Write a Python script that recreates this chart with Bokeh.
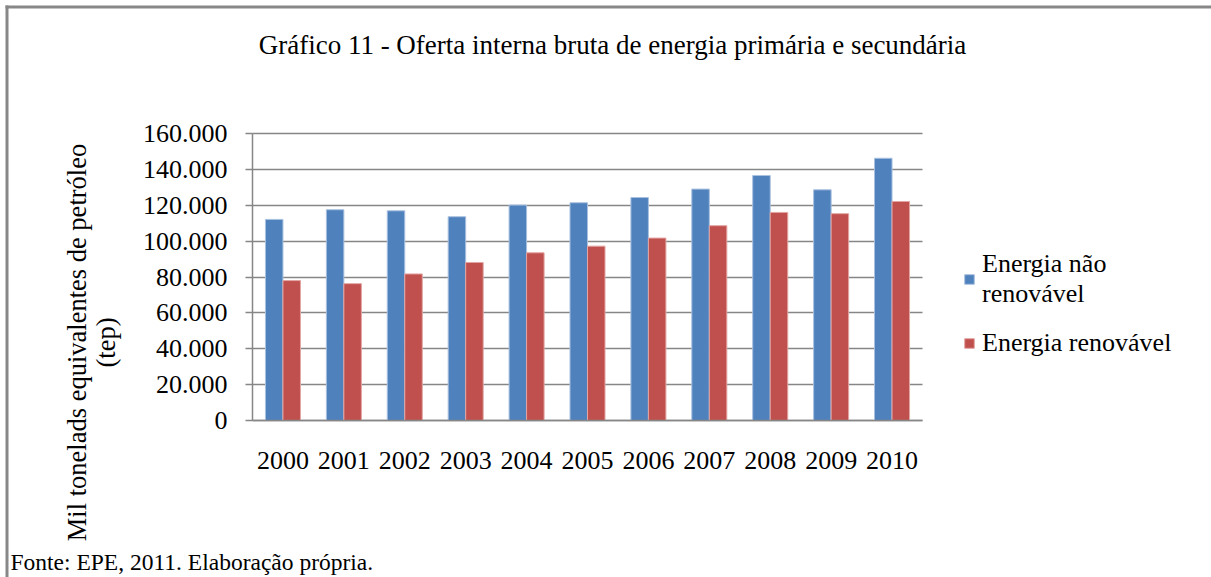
import math
from bokeh.plotting import figure
from bokeh.models import (FixedTicker, Label, Legend, LegendItem, BoxAnnotation,
                          ColumnDataSource, Grid, LinearAxis)
from bokeh.transform import dodge
from bokeh.embed import file_html
from bokeh.resources import INLINE

years = ["2000", "2001", "2002", "2003", "2004", "2005",
         "2006", "2007", "2008", "2009", "2010"]
nao_renovavel = [112100, 117500, 116900, 113600, 120100, 121400,
                 124300, 129000, 136600, 128600, 146200]
renovavel = [78000, 76300, 81700, 88100, 93500, 97200,
             101700, 108600, 116000, 115300, 122100]
y_ticks = [0, 20000, 40000, 60000, 80000, 100000, 120000, 140000, 160000]
y_tick_labels = ["0", "20.000", "40.000", "60.000", "80.000", "100.000",
                 "120.000", "140.000", "160.000"]
series_names = ["Energia não\nrenovável", "Energia renovável"]
title_text = "Gráfico 11 - Oferta interna bruta de energia primária e secundária"
y_label_text = "Mil tonelads equivalentes de petróleo\n(tep)"
source_text = "Fonte: EPE, 2011. Elaboração própria."

FONT = "Liberation Serif"
GRAY = "#868686"
BLUE = "#4F81BD"
RED = "#C0504D"

# ---- layout (page pixels) ----
W, H = 1211, 577
PLOT_L, PLOT_R, PLOT_T, PLOT_B = 252, 922, 133, 420
n = len(years)
cw = (PLOT_R - PLOT_L) / n                       # px per category
ppy = (PLOT_B - PLOT_T) / y_ticks[-1]            # px per unit
x_start = (0 - PLOT_L) / cw - 0.5
x_end = (W - PLOT_L) / cw - 0.5
y_start = -(H - PLOT_B) / ppy
y_end = PLOT_B / ppy

src = ColumnDataSource(dict(idx=list(range(n)), year=years,
                            nao=nao_renovavel, ren=renovavel))

p = figure(x_range=(x_start, x_end), y_range=(y_start, y_end),
           width=W, height=H, output_backend="svg",
           toolbar_location=None, tools="", x_axis_type=None, y_axis_type=None)
p.min_border = 0
p.min_border_left = p.min_border_right = p.min_border_top = p.min_border_bottom = 0
p.outline_line_color = None
p.background_fill_color = "white"
p.border_fill_color = "white"
p.xgrid.visible = False
p.ygrid.visible = False

# gridlines
ygrid = Grid(dimension=1, ticker=FixedTicker(ticks=y_ticks),
             grid_line_color=GRAY, grid_line_width=1.5)
if "cross_bounds" in Grid.properties():
    ygrid.cross_bounds = (-0.5, n - 0.5)
    p.add_layout(ygrid)
else:
    p.segment(x0=[-0.5] * len(y_ticks), x1=[n - 0.5] * len(y_ticks),
              y0=y_ticks, y1=y_ticks, line_color=GRAY, line_width=1.5)

bw = 0.2875
r1 = p.vbar(x=dodge("idx", -bw / 2), top="nao", width=bw,
            source=src, fill_color=BLUE, line_color="#a9c1e0", line_width=1)
r2 = p.vbar(x=dodge("idx", bw / 2), top="ren", width=bw,
            source=src, fill_color=RED, line_color="#e3a5a3", line_width=1)

# axes (fixed inside the frame)
yaxis = LinearAxis(fixed_location=-0.5, bounds=(0, y_ticks[-1]),
                   ticker=FixedTicker(ticks=y_ticks),
                   major_label_overrides={t: l for t, l in zip(y_ticks, y_tick_labels)})
yaxis.minor_tick_line_color = None
yaxis.major_tick_in = 0
yaxis.major_tick_out = 7
yaxis.major_tick_line_color = GRAY
yaxis.major_tick_line_width = 1.5
yaxis.axis_line_color = GRAY
yaxis.axis_line_width = 1.5
yaxis.major_label_text_font = FONT
yaxis.major_label_text_font_size = "26px"
yaxis.major_label_text_color = "black"
yaxis.major_label_standoff = 18
p.add_layout(yaxis, "left")

xaxis = LinearAxis(fixed_location=0, bounds=(-0.5, n - 0.5),
                   ticker=FixedTicker(ticks=list(range(n))),
                   major_label_overrides={i: y for i, y in enumerate(years)})
xaxis.major_tick_line_color = None
xaxis.minor_tick_line_color = None
xaxis.major_tick_out = 0
xaxis.major_tick_in = 0
xaxis.axis_line_color = GRAY
xaxis.axis_line_width = 1.5
xaxis.major_label_text_font = FONT
xaxis.major_label_text_font_size = "26px"
xaxis.major_label_text_color = "black"
xaxis.major_label_standoff = 31
p.add_layout(xaxis, "below")

# legend
legend = Legend(items=[LegendItem(label=series_names[0], renderers=[r1]),
                       LegendItem(label=series_names[1], renderers=[r2])],
                location=(963, 219), orientation="vertical",
                glyph_width=12, glyph_height=12, label_standoff=7,
                spacing=19, padding=0, margin=0,
                border_line_color=None, background_fill_alpha=0)
legend.label_text_font = FONT
legend.label_text_font_size = "26px"
legend.label_text_color = "black"
p.add_layout(legend, "center")

# outer frame (left and top edges)
p.add_layout(BoxAnnotation(left=5, right=8, bottom=-10, top=H - 5,
                           left_units="screen", right_units="screen",
                           bottom_units="screen", top_units="screen",
                           fill_color="#878787", fill_alpha=1, line_color=None))
p.add_layout(BoxAnnotation(left=5, right=W + 10, bottom=H - 8, top=H - 5,
                           left_units="screen", right_units="screen",
                           bottom_units="screen", top_units="screen",
                           fill_color="#878787", fill_alpha=1, line_color=None))

# texts
p.add_layout(Label(x=612, y=H - 44, x_units="screen", y_units="screen",
                   text=title_text, text_align="center", text_baseline="middle",
                   text_font=FONT, text_font_size="27px", text_color="black"))
p.add_layout(Label(x=10, y=H - 561, x_units="screen", y_units="screen",
                   text=source_text, text_align="left", text_baseline="middle",
                   text_font=FONT, text_font_size="23.5px", text_color="black"))
p.add_layout(Label(x=91, y=H - 342, x_units="screen", y_units="screen",
                   text=y_label_text, text_align="center", text_baseline="middle",
                   angle=math.pi / 2, text_line_height=0.95,
                   text_font=FONT, text_font_size="26.5px", text_color="black"))

open("out.html", "w").write(file_html(p, INLINE))
